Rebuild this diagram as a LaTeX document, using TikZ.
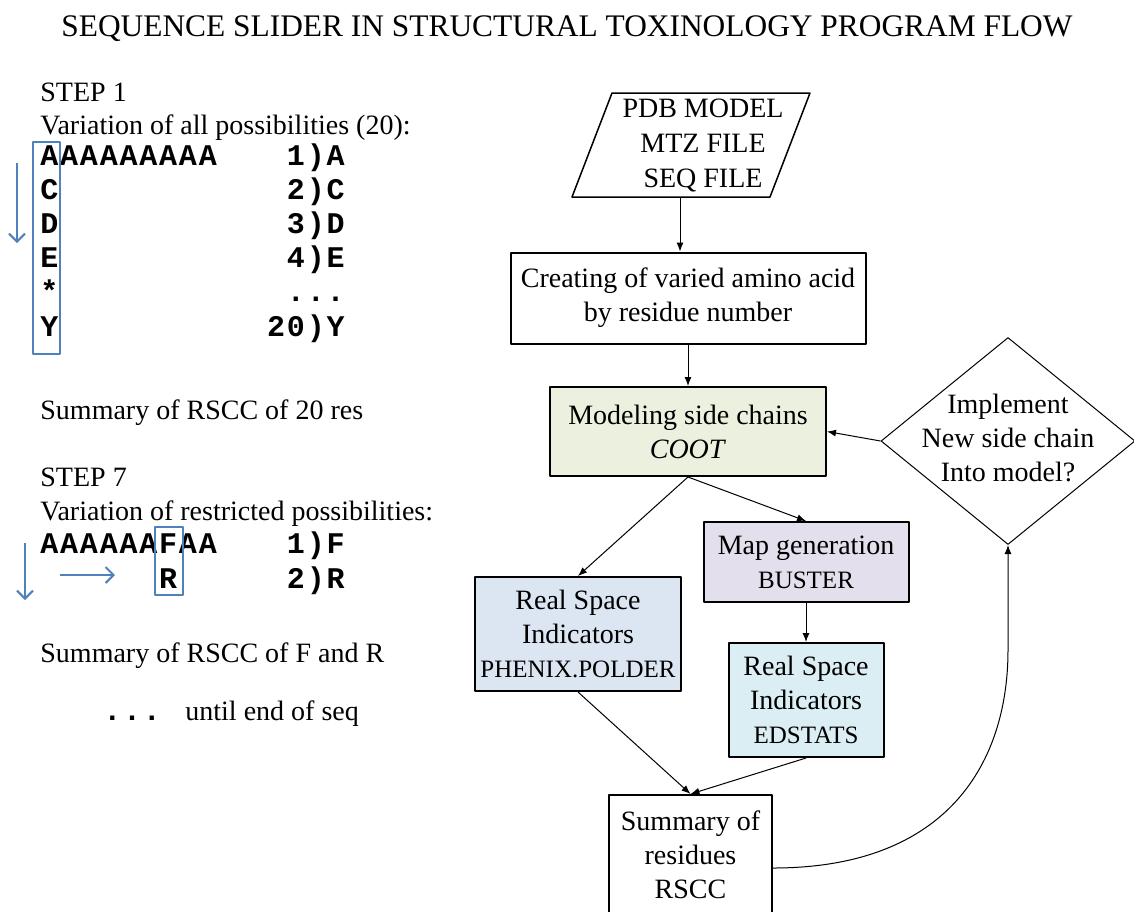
\documentclass[tikz,border=0pt]{standalone}
\usepackage{fontspec}
\setmainfont{Liberation Serif}
\setmonofont[LetterSpace=6]{Liberation Mono}
\usetikzlibrary{arrows.meta, shapes.geometric}
\definecolor{slide}{HTML}{4F81BD}
\newcommand{\toolname}[1]{{\fontsize{12.5}{17}\selectfont #1}}
\newcommand{\mdots}{...}

\begin{document}
\begin{tikzpicture}[x=0.5pt, y=-0.5pt, line join=round,
    txt/.style={font=\fontsize{14}{17}\selectfont, inner sep=0pt},
    mono/.style={font=\fontsize{15}{17}\selectfont\ttfamily\bfseries, inner sep=0pt},
    box/.style={draw, line width=1pt, align=center, inner sep=2pt,
                font=\fontsize{14}{17}\selectfont},
    arr/.style={-{Latex[length=4.5pt,width=3.5pt]}, line width=0.5pt},
    bluearr/.style={draw=slide, line width=1pt, -{Straight Barb[length=4pt,width=8pt]}}]

    % Page size of the reference
    \useasboundingbox (0,0) rectangle (1134,911);
    \clip (0,0) rectangle (1134,911);
    \fill[white] (0,0) rectangle (1134,911);

    \node[font=\fontsize{15.7}{18}\selectfont, anchor=base, inner sep=0pt] (title) at (567,36)
        {SEQUENCE SLIDER IN STRUCTURAL TOXINOLOGY PROGRAM FLOW};

    % ==========================================
    % LEFT: STEP 1
    % ==========================================

    \node[txt, anchor=base west] (step1) at (40,101) {STEP 1};
    \node[txt, anchor=base west] (vary1) at (40,134) {Variation of all possibilities (20):};

    % Sequence column and the list of variants
    \foreach \col/\pick [count=\i from 0] in {AAAAAAAAA/1)A, C/2)C, D/3)D, E/4)E, */\mdots, Y/20)Y} {
        \node[mono, anchor=base west] (res\i) at (40,{165+34.2*\i}) {\col};
        \node[mono, anchor=base east] (var\i) at (345,{165+34.2*\i}) {\pick};
    }

    % Box round the varied position and the slide arrow
    \draw[slide, line width=1pt] (33,142) rectangle (60,354);
    \draw[bluearr] (17,163) -- (17,243);

    \node[txt, anchor=base west] (sum1) at (40,419) {Summary of RSCC of 20 res};

    % ==========================================
    % LEFT: STEP 7
    % ==========================================

    \node[txt, anchor=base west] (step7) at (40,486) {STEP 7};
    \node[txt, anchor=base west] (vary7) at (40,520) {Variation of restricted possibilities:};

    \node[mono, anchor=base west] (res7a) at (40,553) {AAAAAAFAA};
    \node[mono, anchor=base west] (res7b) at (158.8,588) {R};
    \node[mono, anchor=base east] (var7a) at (345,553) {1)F};
    \node[mono, anchor=base east] (var7b) at (345,588) {2)R};

    \draw[slide, line width=1pt] (155,527) rectangle (183,595);
    \draw[bluearr] (25,543) -- (25,600);
    \draw[bluearr] (60,575) -- (115,575);

    \node[txt, anchor=base west] (sum7) at (40,662) {Summary of RSCC of F and R};
    \node[mono, anchor=base west] (dots) at (103,720) {\mdots};
    \node[txt, anchor=base west] (until) at (185,720) {until end of seq};

    % ==========================================
    % RIGHT: PROGRAM FLOW
    % ==========================================

    % Input files (parallelogram)
    \draw[line width=0.75pt] (612,93) -- (810,93) -- (770,197) -- (572,197) -- cycle;
    \node[txt, align=center, font=\fontsize{14}{17.5}\selectfont, minimum height=52pt] (inp) at (703,145)
        {PDB MODEL\\MTZ FILE\\SEQ FILE};

    \node[box, minimum width=177.5pt, minimum height=45.5pt] (create) at (688,298)
        {Creating of varied amino acid\\by residue number};
    \node[box, fill={rgb,255:red,235;green,241;blue,222},
          minimum width=138pt, minimum height=44.5pt] (model) at (688,431.5)
        {Modeling side chains\\\textit{COOT}};
    \node[box, fill={rgb,255:red,228;green,223;blue,236},
          minimum width=102.5pt, minimum height=40pt] (mapgen) at (806,562)
        {Map generation\\\toolname{BUSTER}};
    \node[box, fill={rgb,255:red,219;green,238;blue,243},
          minimum width=77.5pt, minimum height=57pt] (edstats) at (806,700)
        {Real Space\\Indicators\\\toolname{EDSTATS}};
    \node[box, fill={rgb,255:red,220;green,230;blue,242},
          minimum width=103pt, minimum height=57pt] (polder) at (578,634)
        {Real Space\\Indicators\\\toolname{PHENIX.POLDER}};
    \node[box, minimum width=81.5pt, minimum height=60pt] (summ) at (690.5,855)
        {Summary of\\residues\\RSCC};

    % Decision
    \node[diamond, draw, line width=0.5pt, minimum width=127pt, minimum height=103.5pt,
          inner sep=0pt] (dia) at (1008,441) {};
    \node[txt, align=center, yshift=1.5pt] (diatxt) at (dia.center)
        {Implement\\New side chain\\Into model?};

    % Connectors
    \draw[arr] ([xshift=-11.5pt]inp.south) -- ([xshift=-11.5pt]inp.south |- create.north);
    \draw[arr] (create.south) -- (model.north);
    \draw[arr] (model.south) -- (polder.north);
    \draw[arr] (model.south) -- (mapgen.north);
    \draw[arr] (mapgen.south) -- (edstats.north);
    \draw[arr] (polder.south) -- (summ.north);
    \draw[arr] (edstats.south) -- (summ.north);
    \draw[arr] (dia.west) -- (model.east);

    \coordinate (bend) at (1008,650);
    \draw[arr] ([yshift=-6.5pt]summ.east) .. controls (950,868) and (1008,760) .. (bend) -- (dia.south);

\end{tikzpicture}
\end{document}
